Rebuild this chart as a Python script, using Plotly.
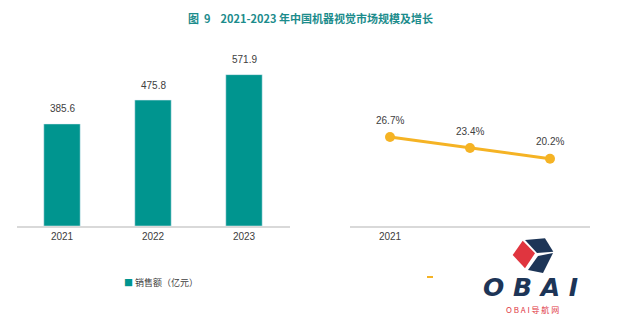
import plotly.graph_objects as go

years = ["2021", "2022", "2023"]
sales = [385.6, 475.8, 571.9]
sales_labels = ["385.6", "475.8", "571.9"]
growth = [26.7, 23.4, 20.2]
growth_labels = ["26.7%", "23.4%", "20.2%"]
growth_ticks = ["2021"]

W, H = 640, 322
def px(x): return x / W
def py(y): return 1 - y / H

FONT = "Liberation Sans, Arial, Noto Sans CJK SC, sans-serif"
TEAL = "#00958f"
ORANGE = "#f5b324"
LBL = dict(size=10, color="#404040", family=FONT)

xs = list(range(len(years)))
fig = go.Figure()
fig.add_trace(go.Bar(
    x=xs, y=sales, width=0.4, marker_color=TEAL,
    name="销售额（亿元）", xaxis="x", yaxis="y", showlegend=False,
))
fig.add_trace(go.Scatter(
    x=xs, y=growth, mode="lines+markers",
    line=dict(color=ORANGE, width=3), marker=dict(size=10, color=ORANGE),
    xaxis="x2", yaxis="y2", showlegend=False,
))
for i, (v, t) in enumerate(zip(sales, sales_labels)):
    fig.add_annotation(x=xs[i], y=v, text=t, xref="x", yref="y", showarrow=False,
                       yanchor="middle", yshift=15, font=LBL)
for i, (v, t) in enumerate(zip(growth, growth_labels)):
    fig.add_annotation(x=xs[i], y=v, text=t, xref="x2", yref="y2", showarrow=False,
                       yanchor="middle", yshift=17, font=LBL)

y0, y1 = py(226), py(50)
fig.update_layout(
    width=W, height=H, margin=dict(l=0, r=0, t=0, b=0),
    paper_bgcolor="white", plot_bgcolor="white",
    font=dict(family=FONT, size=10, color="#404040"),
    xaxis=dict(domain=[px(16.5), px(289.5)], range=[-0.5, 2.5],
               tickmode="array", tickvals=xs, ticktext=years,
               showgrid=False, zeroline=False, showline=True, linecolor="#d9d9d9",
               linewidth=1.5, ticks="", tickfont=dict(size=10, color="#404040")),
    yaxis=dict(domain=[y0, y1], range=[0, 665], visible=False),
    xaxis2=dict(domain=[px(350), px(590)], range=[-0.5, 2.5], anchor="y2",
                tickmode="array", tickvals=[0], ticktext=growth_ticks,
                showgrid=False, zeroline=False, showline=True, linecolor="#d9d9d9",
                linewidth=1.5, ticks="", tickfont=dict(size=10, color="#404040")),
    yaxis2=dict(domain=[y0, y1], range=[0, 52.8], visible=False, anchor="x2"),
    showlegend=False,
)

fig.add_annotation(text="<b>图&nbsp;&nbsp;9&nbsp;&nbsp;&nbsp;&nbsp;2021-2023 年中国机器视觉市场规模及增长</b>",
                   x=px(310), y=py(18), xref="paper", yref="paper", showarrow=False,
                   xanchor="center", yanchor="middle",
                   font=dict(size=11, color="#1c8c8c", family="Noto Sans CJK SC"))

# legend
fig.add_annotation(text=f"<span style='color:{TEAL}'>■</span> 销售额（亿元）",
                   x=px(122), y=py(282), xref="paper", yref="paper", showarrow=False,
                   xanchor="left", yanchor="middle",
                   font=dict(size=9, color="#404040", family="Noto Sans CJK SC"))

# cropped legend fragment of the line series
fig.add_shape(type="line", xref="paper", yref="paper",
              x0=px(427), x1=px(433), y0=py(277), y1=py(277),
              line=dict(color=ORANGE, width=2))

# watermark logo
def path(pts):
    return "M " + " L ".join(f"{px(a)},{py(b)}" for a, b in pts) + " Z"
fig.add_shape(type="path", xref="paper", yref="paper", path=path([(512.7,255),(522.7,240.7),(535,253.3),(525,268.3)]),
              fillcolor="#e0353f", line=dict(width=0))
fig.add_shape(type="path", xref="paper", yref="paper", path=path([(525,240),(545,238.3),(553.3,251.7),(537,253)]),
              fillcolor="#1d3557", line=dict(width=0))
fig.add_shape(type="path", xref="paper", yref="paper", path=path([(538,256),(553,253),(543,273),(528,270)]),
              fillcolor="#1d3557", line=dict(width=0))
fig.add_annotation(text="<b><i>O B A I</i></b>", x=px(530), y=py(287), xref="paper", yref="paper",
                   showarrow=False, xanchor="center", yanchor="middle",
                   font=dict(size=25, color="#1d3557", family="DejaVu Sans"))
fig.add_annotation(text="O B A I 导 航 网", x=px(532), y=py(309), xref="paper", yref="paper",
                   showarrow=False, xanchor="center", yanchor="middle",
                   font=dict(size=8, color="#e0353f", family="Noto Sans CJK SC"))

fig.write_html("out.html")
